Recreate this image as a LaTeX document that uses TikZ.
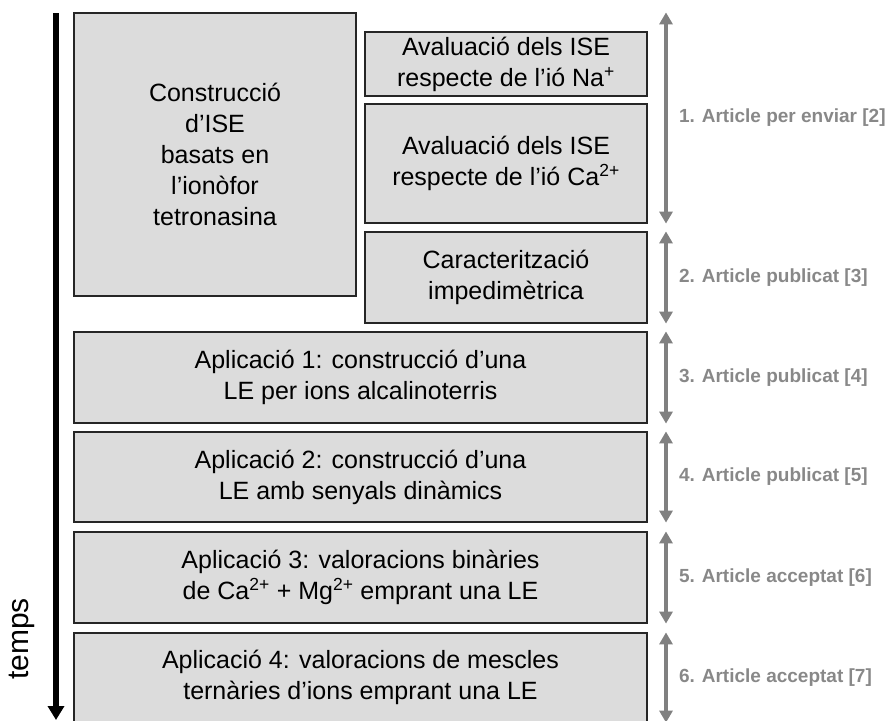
\documentclass[tikz,border=0pt]{standalone}
\usepackage{fontspec}
\setmainfont{Liberation Sans}
\usepackage{tikz}
\usetikzlibrary{arrows.meta,positioning}
\definecolor{boxfill}{RGB}{220,220,220}
\definecolor{spangray}{RGB}{128,128,128}
\definecolor{papergray}{RGB}{136,136,136}

\begin{document}
\begin{tikzpicture}[x=1pt,y=-1pt,
    stage/.style={draw=black!85,fill=boxfill,line width=1.2pt,inner sep=0pt,align=center,
      font=\fontsize{25}{31}\selectfont},
    period/.style={draw=spangray,line width=4pt,
      {Triangle[width=13pt,length=12pt]}-{Triangle[width=13pt,length=12pt]}},
    paper/.style={anchor=west,text=papergray,inner sep=0pt,xshift=11pt,
      font=\bfseries\fontsize{19}{22}\selectfont}]
        \useasboundingbox (0,0) rectangle (885,720);
        \def\wl{282pt}
        \def\wf{573pt}
        %Draw boxes
        \node[stage,minimum width=\wl,minimum height=283pt] (ise) at (215,154.5)
          {Construcció\\d’ISE\\basats en\\l’ionòfor\\tetronasina};
        \node[stage,minimum width=\wl,minimum height=64pt] (na) at (506,64)
          {Avaluació dels ISE\\respecte de l’ió Na\textsuperscript{+}};
        \node[stage,minimum width=\wl,minimum height=119pt] (ca) at (506,163.5)
          {Avaluació dels ISE\\respecte de l’ió Ca\textsuperscript{2+}};
        \node[stage,minimum width=\wl,minimum height=91pt] (imp) at (506,277.5)
          {Caracterització\\impedimètrica};
        \node[stage,minimum width=\wf,minimum height=91pt] (app1) at (360.5,377.5)
          {Aplicació 1: construcció d’una\\LE per ions alcalinoterris};
        \node[stage,minimum width=\wf,minimum height=90pt] (app2) at (360.5,477)
          {Aplicació 2: construcció d’una\\LE amb senyals dinàmics};
        \node[stage,minimum width=\wf,minimum height=91pt] (app3) at (360.5,577.5)
          {Aplicació 3: valoracions binàries\\de Ca\textsuperscript{2+} + Mg\textsuperscript{2+} emprant una LE};
        \node[stage,minimum width=\wf,minimum height=89pt] (app4) at (360.5,677.5)
          {Aplicació 4: valoracions de mescles\\ternàries d’ions emprant una LE};
        %Time axis
        \coordinate (t0) at (56,13);
        \coordinate (t1) at (56,720);
        \draw[line width=6pt,-{Triangle[width=16pt,length=14pt]}] (t0) -- (t1);
        \node[rotate=90,font=\fontsize{30}{32}\selectfont] (temps) at (21.5,639) {temps};
        %Draw publication spans
        \coordinate (arr) at (666,0);
        \draw[period] (ise.north -| arr) -- (ca.south -| arr)
          node[paper,midway] (p1) {1. Article per enviar [2]};
        \draw[period] (imp.north -| arr) -- (imp.south -| arr)
          node[paper,midway] (p2) {2. Article publicat [3]};
        \draw[period] (app1.north -| arr) -- (app1.south -| arr)
          node[paper,midway] (p3) {3. Article publicat [4]};
        \draw[period] (app2.north -| arr) -- (app2.south -| arr)
          node[paper,midway] (p4) {4. Article publicat [5]};
        \draw[period] (app3.north -| arr) -- (app3.south -| arr)
          node[paper,midway] (p5) {5. Article acceptat [6]};
        \draw[period] (app4.north -| arr) -- (app4.south -| arr)
          node[paper,midway] (p6) {6. Article acceptat [7]};
      \end{tikzpicture}
\end{document}
